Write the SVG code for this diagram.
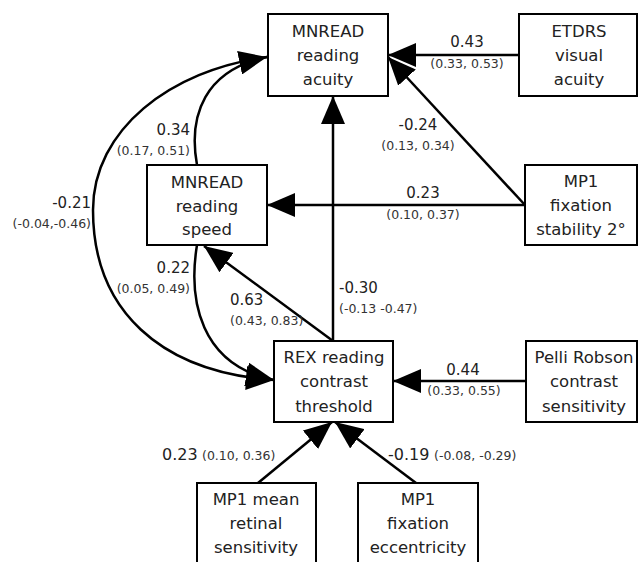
<svg xmlns="http://www.w3.org/2000/svg" width="639" height="562" viewBox="0 0 639 562">
<style>
.box{fill:#fff;stroke:#000;stroke-width:2}
.bt{font-family:"DejaVu Sans",sans-serif;font-size:16.5px;fill:#222;text-anchor:middle}
.c{fill:none;stroke:#000;stroke-width:2.5;marker-end:url(#ah)}
.m{font-family:"DejaVu Sans",sans-serif;font-size:15px;fill:#222}
.s{font-family:"DejaVu Sans",sans-serif;font-size:12.5px;fill:#333}
.mid{text-anchor:middle}
.end{text-anchor:end}
</style>
<defs>
<marker id="ah" markerWidth="28" markerHeight="24" refX="28" refY="12" orient="auto" markerUnits="userSpaceOnUse">
<path d="M0,0 L28,12 L0,24 z" fill="#000"/>
</marker>
</defs>
<rect width="639" height="562" fill="#fff"/>
<g id="connectors">
<path class="c" d="M519,55 L388,55"/>
<path class="c" d="M525,205 L388,57"/>
<path class="c" d="M525,205 L267,205"/>
<path class="c" d="M333,341 L333,96"/>
<path class="c" d="M333,341 L204,246"/>
<path class="c" d="M526,381 L393,381"/>
<path class="c" d="M258,483 L332,422"/>
<path class="c" d="M416,483 L335,422"/>
<path class="c" d="M197,165 C188,115 205,70 267,57"/>
<path class="c" d="M267,57 C170,70 93,130 93,210 C93,310 160,372 274,380"/>
<path class="c" d="M197,245 C188,300 200,365 274,380"/>
<text class="m mid" x="467" y="47">0.43</text>
<text class="s mid" x="467" y="68">(0.33, 0.53)</text>
<text class="m mid" x="418" y="130">-0.24</text>
<text class="s mid" x="418" y="150">(0.13, 0.34)</text>
<text class="m mid" x="423" y="198">0.23</text>
<text class="s mid" x="423" y="219">(0.10, 0.37)</text>
<text class="m" x="339" y="293">-0.30</text>
<text class="s" x="339" y="313">(-0.13 -0.47)</text>
<text class="m mid" x="463" y="375">0.44</text>
<text class="s mid" x="464" y="395">(0.33, 0.55)</text>
<text class="m" x="230" y="305">0.63</text>
<text class="s" x="230" y="325">(0.43, 0.83)</text>
<text class="m end" x="190" y="135">0.34</text>
<text class="s end" x="190" y="155">(0.17, 0.51)</text>
<text class="m end" x="91" y="208">-0.21</text>
<text class="s end" x="91" y="228">(-0.04,-0.46)</text>
<text class="m end" x="190" y="273">0.22</text>
<text class="s end" x="190" y="293">(0.05, 0.49)</text>
<text class="m" x="162" y="460" style="font-size:16px">0.23</text>
<text class="s" x="202" y="460">(0.10, 0.36)</text>
<text class="m" x="388" y="460" style="font-size:16px">-0.19</text>
<text class="s" x="434" y="460">(-0.08, -0.29)</text>
</g>
<g id="acuity">
<rect class="box" x="268" y="14" width="120" height="82"/>
<text class="bt" x="328" y="37">MNREAD</text>
<text class="bt" x="328" y="61">reading</text>
<text class="bt" x="328" y="85">acuity</text>
</g>
<g id="etdrs">
<rect class="box" x="519" y="14" width="118" height="82"/>
<text class="bt" x="579" y="37">ETDRS</text>
<text class="bt" x="579" y="61">visual</text>
<text class="bt" x="579" y="85">acuity</text>
</g>
<g id="speed">
<rect class="box" x="147" y="165" width="120" height="80"/>
<text class="bt" x="207" y="188">MNREAD</text>
<text class="bt" x="207" y="212">reading</text>
<text class="bt" x="207" y="235">speed</text>
</g>
<g id="stability">
<rect class="box" x="525" y="165" width="112" height="80"/>
<text class="bt" x="581" y="187">MP1</text>
<text class="bt" x="581" y="211">fixation</text>
<text class="bt" x="581" y="235">stability 2°</text>
</g>
<g id="rex">
<rect class="box" x="274" y="341" width="119" height="81"/>
<text class="bt" x="334" y="363">REX reading</text>
<text class="bt" x="334" y="387">contrast</text>
<text class="bt" x="334" y="412">threshold</text>
</g>
<g id="pelli">
<rect class="box" x="526" y="341" width="111" height="81"/>
<text class="bt" x="584" y="363">Pelli Robson</text>
<text class="bt" x="584" y="387">contrast</text>
<text class="bt" x="584" y="412">sensitivity</text>
</g>
<g id="mean">
<rect class="box" x="197" y="483" width="119" height="90"/>
<text class="bt" x="256" y="505">MP1 mean</text>
<text class="bt" x="256" y="529">retinal</text>
<text class="bt" x="256" y="553">sensitivity</text>
</g>
<g id="eccentricity">
<rect class="box" x="358" y="483" width="120" height="90"/>
<text class="bt" x="418" y="505">MP1</text>
<text class="bt" x="418" y="529">fixation</text>
<text class="bt" x="418" y="553">eccentricity</text>
</g>
</svg>
